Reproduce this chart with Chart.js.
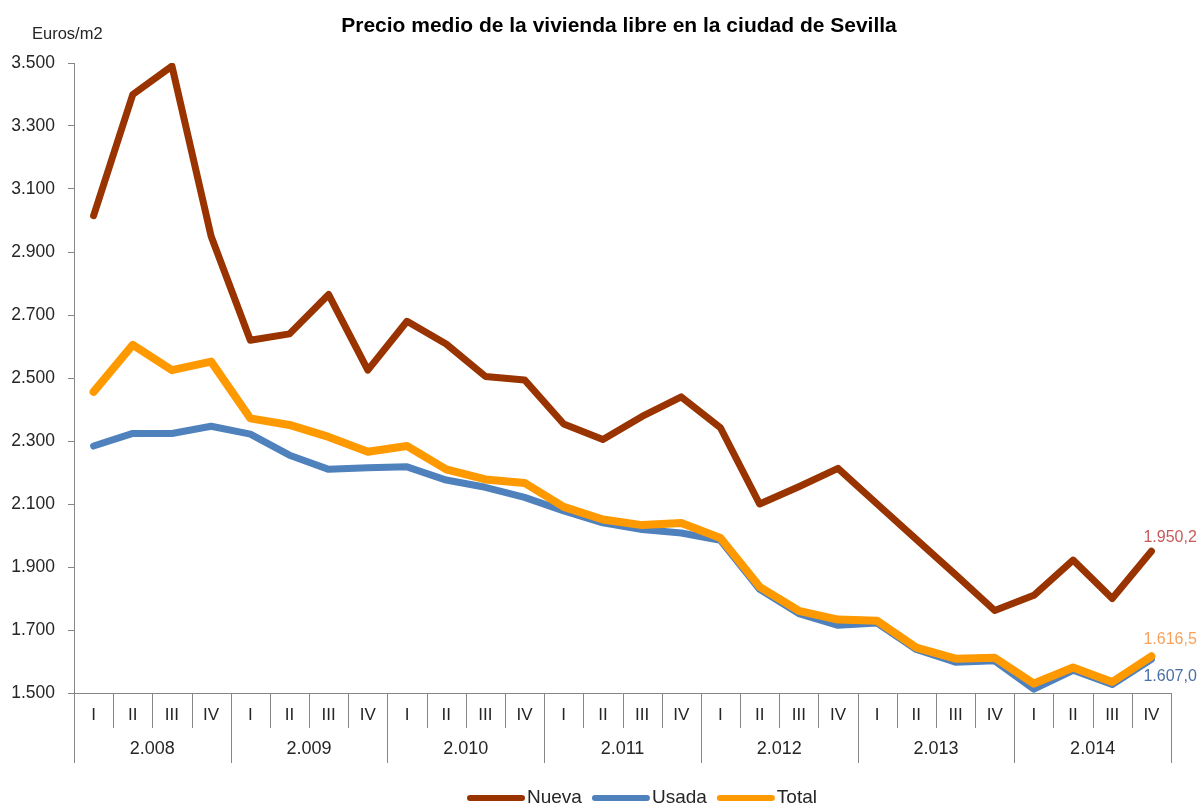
<!DOCTYPE html>
<html lang="es">
<head>
<meta charset="utf-8">
<title>Precio medio de la vivienda libre en la ciudad de Sevilla</title>
<script src="https://cdn.jsdelivr.net/npm/chart.js@4.4.1/dist/chart.umd.min.js"></script>
<style>
  html, body { margin: 0; padding: 0; background: #ffffff; }
  canvas { display: block; }
</style>
</head>
<body>
<canvas id="chart" width="1200" height="808"></canvas>
<script>
// Years and quarters of the horizontal axis
const years = ['2.008', '2.009', '2.010', '2.011', '2.012', '2.013', '2.014'];
const quarters = ['I', 'II', 'III', 'IV'];

// Average price per square metre (euros/m2), one value per quarter
const nueva = [3015, 3400, 3490, 2950, 2620, 2640, 2765, 2525,
               2680, 2608, 2505, 2494, 2354, 2305, 2378, 2440,
               2342, 2100, 2155, 2213, 2100, 1988, 1876, 1762,
               1810, 1922, 1800, 1950.2];
const usada = [2284, 2324, 2324, 2347, 2322, 2255, 2210, 2215,
               2218, 2176, 2153, 2121, 2078, 2040, 2019, 2008,
               1985, 1829, 1752, 1715, 1722, 1638, 1598, 1602,
               1512, 1572, 1527, 1607.0];
const total = [2456, 2605, 2525, 2552, 2372, 2351, 2313, 2266,
               2284, 2210, 2178, 2167, 2091, 2051, 2033, 2040,
               1992, 1837, 1761, 1733, 1729, 1644, 1609, 1612,
               1530, 1581, 1535, 1616.5];

// Y axis range
const yMin = 1500, yMax = 3500, yStep = 200;

const FONT = '"Liberation Sans", Arial, Helvetica, sans-serif';
const AXIS_COLOR = '#868686';
const TEXT_COLOR = '#262626';

// One category per quarter
const categories = [];
years.forEach(y => quarters.forEach(q => categories.push(q + ' ' + y)));

// Spanish number format: '.' for thousands, ',' for decimals
function fmt(v, decimals) {
  const fixed = v.toFixed(decimals || 0);
  const parts = fixed.split('.');
  const intPart = parts[0].replace(/\B(?=(\d{3})+(?!\d))/g, '.');
  return parts.length > 1 ? intPart + ',' + parts[1] : intPart;
}

// Title and unit label
const titlePlugin = {
  id: 'titleText',
  afterDraw(chart) {
    const ctx = chart.ctx;
    ctx.save();
    ctx.fillStyle = '#000000';
    ctx.font = 'bold 21px ' + FONT;
    ctx.textAlign = 'center';
    ctx.textBaseline = 'alphabetic';
    ctx.fillText('Precio medio de la vivienda libre en la ciudad de Sevilla', 619, 32);
    ctx.fillStyle = TEXT_COLOR;
    ctx.font = '16.5px ' + FONT;
    ctx.textAlign = 'left';
    ctx.fillText('Euros/m2', 32, 39);
    ctx.restore();
  }
};

// Two-level category axis: quarters above, years below
const groupedAxisPlugin = {
  id: 'groupedAxis',
  beforeDatasetsDraw(chart) {
    const ctx = chart.ctx;
    const x = chart.scales.x;
    const area = chart.chartArea;
    const bottom = area.bottom;
    const n = categories.length;
    const boundary = i => {
      if (i === 0) return area.left;
      if (i === n) return area.right;
      return (x.getPixelForValue(i - 1) + x.getPixelForValue(i)) / 2;
    };
    ctx.save();
    ctx.strokeStyle = AXIS_COLOR;
    ctx.lineWidth = 1;
    ctx.beginPath();
    ctx.moveTo(area.left, bottom + 0.5);
    ctx.lineTo(area.right, bottom + 0.5);
    for (let i = 0; i <= n; i++) {
      const bx = Math.round(boundary(i)) + 0.5;
      const len = (i % quarters.length === 0) ? 70 : 35;
      ctx.moveTo(bx, bottom);
      ctx.lineTo(bx, bottom + len);
    }
    ctx.stroke();

    ctx.fillStyle = TEXT_COLOR;
    ctx.textAlign = 'center';
    ctx.textBaseline = 'middle';
    ctx.font = '17px ' + FONT;
    for (let i = 0; i < n; i++) {
      ctx.fillText(quarters[i % quarters.length], x.getPixelForValue(i), bottom + 22);
    }
    ctx.font = '18px ' + FONT;
    years.forEach((y, k) => {
      const cx = (boundary(k * 4) + boundary(k * 4 + 4)) / 2;
      ctx.fillText(y, cx, bottom + 56);
    });
    ctx.restore();
  }
};

// Value labels on the last point of each series
const lastValuePlugin = {
  id: 'lastValue',
  afterDatasetsDraw(chart) {
    const ctx = chart.ctx;
    const x = chart.scales.x, y = chart.scales.y;
    const specs = [
      { ds: 0, color: '#C65A5A', dy: -14 },
      { ds: 2, color: '#F9A15A', dy: -17 },
      { ds: 1, color: '#4A6FA6', dy: 17 }
    ];
    ctx.save();
    ctx.font = '16px ' + FONT;
    ctx.textAlign = 'left';
    ctx.textBaseline = 'middle';
    specs.forEach(s => {
      const data = chart.data.datasets[s.ds].data;
      const i = data.length - 1;
      const px = x.getPixelForValue(i);
      const py = y.getPixelForValue(data[i]);
      ctx.fillStyle = s.color;
      ctx.fillText(fmt(data[i], 1), px - 8, py + s.dy);
    });
    ctx.restore();
  }
};

// Legend centred under the axis
const legendPlugin = {
  id: 'bottomLegend',
  afterDraw(chart) {
    const ctx = chart.ctx;
    const order = [0, 1, 2];
    const lineLen = 58, cy = 798;
    let cx = 467;
    ctx.save();
    ctx.font = '19px ' + FONT;
    ctx.textBaseline = 'middle';
    ctx.textAlign = 'left';
    order.forEach(k => {
      const ds = chart.data.datasets[k];
      ctx.strokeStyle = ds.borderColor;
      ctx.lineWidth = 6;
      ctx.lineCap = 'round';
      ctx.beginPath();
      ctx.moveTo(cx + 3, cy);
      ctx.lineTo(cx + lineLen - 3, cy);
      ctx.stroke();
      cx += lineLen + 2;
      ctx.fillStyle = TEXT_COLOR;
      ctx.fillText(ds.label, cx, cy);
      cx += ctx.measureText(ds.label).width + 10;
    });
    ctx.restore();
  }
};

const lineStyle = {
  borderWidth: 7,
  pointRadius: 0,
  pointHoverRadius: 0,
  tension: 0,
  borderJoinStyle: 'round',
  borderCapStyle: 'round',
  fill: false
};

new Chart(document.getElementById('chart'), {
  type: 'line',
  data: {
    labels: categories,
    datasets: [
      Object.assign({ label: 'Nueva', data: nueva, borderColor: '#993300', order: 3 }, lineStyle),
      Object.assign({ label: 'Usada', data: usada, borderColor: '#4F81BD', order: 2 }, lineStyle),
      Object.assign({ label: 'Total', data: total, borderColor: '#FF9900', order: 1 }, lineStyle, { borderWidth: 8 })
    ]
  },
  options: {
    responsive: false,
    devicePixelRatio: 1,
    animation: false,
    events: [],
    layout: { padding: { left: 0, right: 29, top: 63, bottom: 115 } },
    plugins: {
      legend: { display: false },
      title: { display: false },
      tooltip: { enabled: false }
    },
    scales: {
      x: {
        type: 'category',
        offset: true,
        display: false
      },
      y: {
        min: yMin,
        max: yMax,
        afterFit(scale) { scale.width = 74; },
        ticks: {
          stepSize: yStep,
          padding: 13,
          color: TEXT_COLOR,
          font: { family: FONT, size: 17.5 },
          callback: v => fmt(v, 0)
        },
        grid: {
          drawOnChartArea: false,
          drawTicks: true,
          tickLength: 6,
          color: AXIS_COLOR
        },
        border: { color: AXIS_COLOR, width: 1 }
      }
    }
  },
  plugins: [titlePlugin, groupedAxisPlugin, lastValuePlugin, legendPlugin]
});
</script>
</body>
</html>
